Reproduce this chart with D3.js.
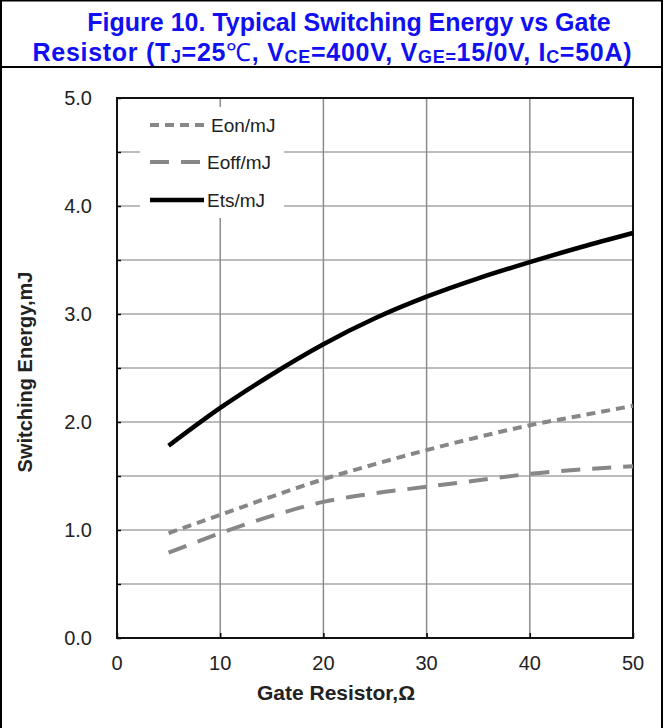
<!DOCTYPE html>
<html><head><meta charset="utf-8">
<script src="https://cdn.jsdelivr.net/npm/d3@7"></script>
<style>
html,body{margin:0;padding:0;background:#fff;}
svg{display:block;}
</style></head>
<body>
<svg id="c" width="668" height="728"></svg>
<script>
// ---- data ----
const gateResistor = [5, 10, 15, 20, 25, 30, 35, 40, 45, 50];
const eon  = [0.97, 1.14, 1.31, 1.47, 1.61, 1.74, 1.86, 1.97, 2.06, 2.15];
const eoff = [0.79, 0.97, 1.13, 1.26, 1.34, 1.40, 1.46, 1.52, 1.56, 1.59];
const ets  = [1.78, 2.13, 2.44, 2.72, 2.96, 3.16, 3.33, 3.48, 3.62, 3.75];
const seriesNames = ["Eon/mJ", "Eoff/mJ", "Ets/mJ"];
const xTicks = [0, 10, 20, 30, 40, 50];
const yTicks = [0, 1, 2, 3, 4, 5];
const yGrid = [0.5, 1, 1.5, 2, 2.5, 3, 3.5, 4, 4.5];

const svg = d3.select("#c");
const font = "'Liberation Sans', Arial, sans-serif";
const narrow = "'Liberation Sans Narrow', 'Arial Narrow', 'Liberation Sans', Arial, sans-serif";

// frame
svg.append("rect").attr("x", 1).attr("y", 0.5).attr("width", 661).attr("height", 735)
  .attr("fill", "none").attr("stroke", "#000").attr("stroke-width", 2);
svg.append("line").attr("x1", 1).attr("x2", 662).attr("y1", 67).attr("y2", 67)
  .attr("stroke", "#000").attr("stroke-width", 2);

// title
const blue = "#1010f0";
svg.append("text").attr("x", 349).attr("y", 31).attr("text-anchor", "middle")
  .attr("font-family", font).attr("font-weight", "bold").attr("font-size", 25).attr("fill", blue)
  .text("Figure 10. Typical Switching Energy vs Gate");
const t2 = svg.append("text").attr("x", 332).attr("y", 61).attr("text-anchor", "middle")
  .attr("font-family", font).attr("font-weight", "bold").attr("font-size", 25).attr("fill", blue)
  .attr("textLength", 599).attr("lengthAdjust", "spacing");
const parts = [
  ["Resistor (T", 0], ["J", 1], ["=25", 0], ["℃", 2], [", V", 0], ["CE", 1], ["=400V, V", 0],
  ["GE=", 1], ["15/0V, I", 0], ["C", 1], ["=50A)", 0]
];
parts.forEach(([s, k], i) => {
  const ts = t2.append("tspan").text(s);
  if (k === 1) ts.attr("font-size", 18).attr("dy", 2);
  else if (k === 2) ts.attr("font-family", "'Liberation Serif', serif").attr("font-weight", "normal");
  if (k !== 1 && i > 0 && parts[i - 1][1] === 1) ts.attr("dy", -2);
});

// scales
const x = d3.scaleLinear().domain([0, 50]).range([117, 633]);
const y = d3.scaleLinear().domain([0, 5]).range([638, 98]);

// grid
svg.append("g").selectAll("line").data(yGrid).join("line")
  .attr("x1", x(0)).attr("x2", x(50)).attr("y1", d => y(d)).attr("y2", d => y(d))
  .attr("stroke", "#a6a6a6").attr("stroke-width", 1.5);
svg.append("g").selectAll("line").data(xTicks.slice(1, -1)).join("line")
  .attr("x1", d => x(d)).attr("x2", d => x(d)).attr("y1", y(0)).attr("y2", y(5))
  .attr("stroke", "#8c8c8c").attr("stroke-width", 1.5);

// legend background (covers grid)
svg.append("rect").attr("x", 140).attr("y", 107).attr("width", 144).attr("height", 111).attr("fill", "#fff");

// axes (ticks inside)
const yAxis = d3.axisLeft(y).tickValues(yGrid.concat([0, 5])).tickSize(-4).tickFormat("");
const gy = svg.append("g").attr("transform", `translate(${x(0)},0)`).call(yAxis);
const xAxis = d3.axisBottom(x).tickValues(xTicks).tickSize(-5).tickFormat("");
const gx = svg.append("g").attr("transform", `translate(0,${y(0)})`).call(xAxis);
[gx, gy].forEach(g => { g.selectAll("path").remove(); g.selectAll("line").attr("stroke", "#000").attr("stroke-width", 1.5); });

// plot border
svg.append("rect").attr("x", x(0)).attr("y", y(5)).attr("width", x(50) - x(0)).attr("height", y(0) - y(5))
  .attr("fill", "none").attr("stroke", "#111").attr("stroke-width", 2);

// tick labels
svg.append("g").selectAll("text").data(yTicks).join("text")
  .attr("x", 92).attr("y", d => y(d) + 7).attr("text-anchor", "end")
  .attr("font-family", narrow).attr("font-size", 20).attr("fill", "#222")
  .text(d => d3.format(".1f")(d));
svg.append("g").selectAll("text").data(xTicks).join("text")
  .attr("x", d => x(d)).attr("y", 670).attr("text-anchor", "middle")
  .attr("font-family", narrow).attr("font-size", 20).attr("fill", "#222")
  .text(d => d);

// axis titles
svg.append("text").attr("x", 336).attr("y", 700).attr("text-anchor", "middle")
  .attr("font-family", font).attr("font-weight", "bold").attr("font-size", 21).attr("fill", "#222")
  .text("Gate Resistor,Ω");
svg.append("text").attr("transform", "translate(32,372) rotate(-90)").attr("text-anchor", "middle")
  .attr("font-family", font).attr("font-weight", "bold").attr("font-size", 20).attr("fill", "#222")
  .text("Switching Energy,mJ");

// lines
const series = [
  { name: seriesNames[0], vals: eon, color: "#878787", dash: "9,6", w: 4 },
  { name: seriesNames[1], vals: eoff, color: "#878787", dash: "19,12", w: 4 },
  { name: seriesNames[2], vals: ets, color: "#000", dash: null, w: 4.5 }
];
const line = d3.line().x(d => x(d[0])).y(d => y(d[1])).curve(d3.curveMonotoneX);
series.forEach(s => {
  svg.append("path").datum(gateResistor.map((g, i) => [g, s.vals[i]]))
    .attr("d", line).attr("fill", "none").attr("stroke", s.color).attr("stroke-width", s.w)
    .attr("stroke-dasharray", s.dash);
});

// legend
const legY = [125, 162, 200];
series.forEach((s, i) => {
  svg.append("line").attr("x1", 150).attr("x2", 204).attr("y1", legY[i]).attr("y2", legY[i])
    .attr("stroke", s.color).attr("stroke-width", s.w).attr("stroke-dasharray", s.dash);
  svg.append("text").attr("x", i === 0 ? 211 : 207).attr("y", legY[i] + 7)
    .attr("font-family", font).attr("font-size", 19).attr("fill", "#222").text(s.name);
});
</script>
</body></html>
